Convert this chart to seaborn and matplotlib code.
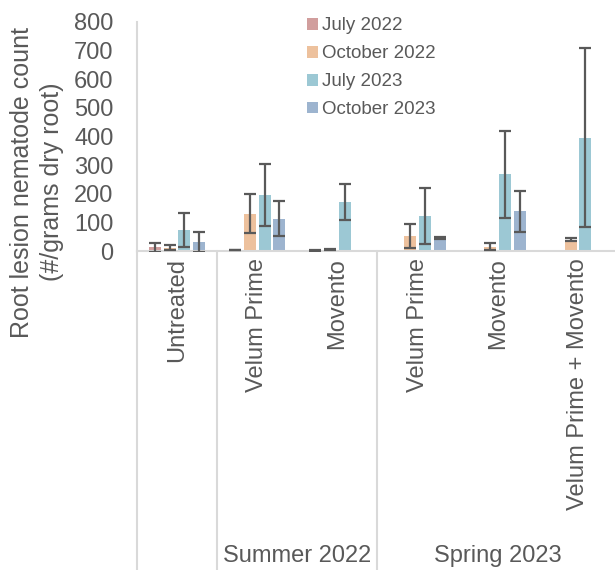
import matplotlib
matplotlib.use("Agg")
import matplotlib.pyplot as plt
import seaborn as sns
import pandas as pd
import numpy as np

# ---- data ----
treatments = ["Untreated", "Velum Prime", "Movento", "Velum Prime ", "Movento ", "Velum Prime + Movento"]
tick_labels = ["Untreated", "Velum Prime", "Movento", "Velum Prime", "Movento", "Velum Prime + Movento"]
seasons = ["July 2022", "October 2022", "July 2023", "October 2023"]
groups = ["Summer 2022", "Spring 2023"]
group_spans = [(1, 2), (3, 5)]

july_2022 = [13, 3, 2, 0, 0, 0]
october_2022 = [12, 131, 5, 52, 15, 40]
july_2023 = [73, 196, 171, 122, 268, 396]
october_2023 = [31, 112, 1, 46, 139, 1]

july_2022_err = [15, 1, 1, np.nan, np.nan, np.nan]
october_2022_err = [9, 67, 1, 43, 13, 5]
july_2023_err = [59, 107, 63, 97, 152, 313]
october_2023_err = [34, 61, np.nan, 3, 71, np.nan]

colors = ["#DA9694", "#FAC090", "#93CDDD", "#95B3D7"]
text_color = "#595959"
line_color = "#D9D9D9"

values = [july_2022, october_2022, july_2023, october_2023]
errors = [july_2022_err, october_2022_err, july_2023_err, october_2023_err]

rows = []
for s, vals in zip(seasons, values):
    for t, v in zip(treatments, vals):
        rows.append({"Treatment": t, "Season": s, "Count": v})
df = pd.DataFrame(rows)

# ---- figure ----
sns.set_theme(style="white")
plt.rcParams["font.family"] = ["Liberation Sans", "DejaVu Sans"]

fig = plt.figure(figsize=(6.15, 5.70), dpi=100)
W, H = 615, 570
ax_left, ax_right = 137, 618
ax_top, ax_bottom = 22, 251
ax = fig.add_axes([ax_left / W, 1 - ax_bottom / H, (ax_right - ax_left) / W, (ax_bottom - ax_top) / H])

sns.barplot(data=df, x="Treatment", y="Count", hue="Season", order=treatments,
            hue_order=seasons, palette=colors, width=0.73, gap=0.18,
            linewidth=0, errorbar=None, ax=ax, legend=True)

# error bars from bar positions
for cont, errs in zip(ax.containers, errors):
    for patch, e in zip(cont.patches, errs):
        if np.isnan(e):
            continue
        xc = patch.get_x() + patch.get_width() / 2
        ax.errorbar(xc, patch.get_height(), yerr=e, fmt="none", ecolor="#595959",
                    elinewidth=1.6, capsize=4.5, capthick=1.6, zorder=5)

ax.set_ylim(0, 800)
ax.set_xlim(-0.5, len(treatments) - 0.5)
ax.set_yticks(np.arange(0, 801, 100))
ax.tick_params(axis="y", labelsize=17, colors=text_color, length=0, pad=17)
ax.tick_params(axis="x", labelsize=17, colors=text_color, length=0, pad=5)
ax.set_xticks(range(len(treatments)))
ax.set_xticklabels(tick_labels, rotation=90, va="top", ha="center")
ax.set_xlabel("")
ax.set_ylabel("")
fig.text(37 / W, 1 - 182 / H, "Root lesion nematode count\n(#/grams dry root)", rotation=90,
         ha="center", va="center", multialignment="center", fontsize=18,
         color=text_color, linespacing=1.3)

for side in ["top", "right"]:
    ax.spines[side].set_visible(False)
for side in ["left", "bottom"]:
    ax.spines[side].set_color(line_color)
    ax.spines[side].set_linewidth(1.5)

# separators below axis
trans = ax.get_xaxis_transform()
for xb in [-0.5, 0.5, 2.5]:
    ax.plot([xb, xb], [0, -1.45], transform=trans, color=line_color, lw=1.5, clip_on=False)

# group labels
for g, (a, b) in zip(groups, group_spans):
    ax.text((a + b) / 2, -1.33, g, transform=trans, ha="center", va="center",
            fontsize=17, color=text_color, clip_on=False)

# legend
handles, labels = ax.get_legend_handles_labels()
leg = ax.legend(handles, labels, loc="upper left", bbox_to_anchor=(299 / W, 1 - 10 / H),
                bbox_transform=fig.transFigure, frameon=False, fontsize=13.5,
                handlelength=0.6, handleheight=0.6, handletextpad=0.2,
                labelspacing=0.58, borderaxespad=0)
for t in leg.get_texts():
    t.set_color(text_color)

fig.savefig("out.png", dpi=100)
